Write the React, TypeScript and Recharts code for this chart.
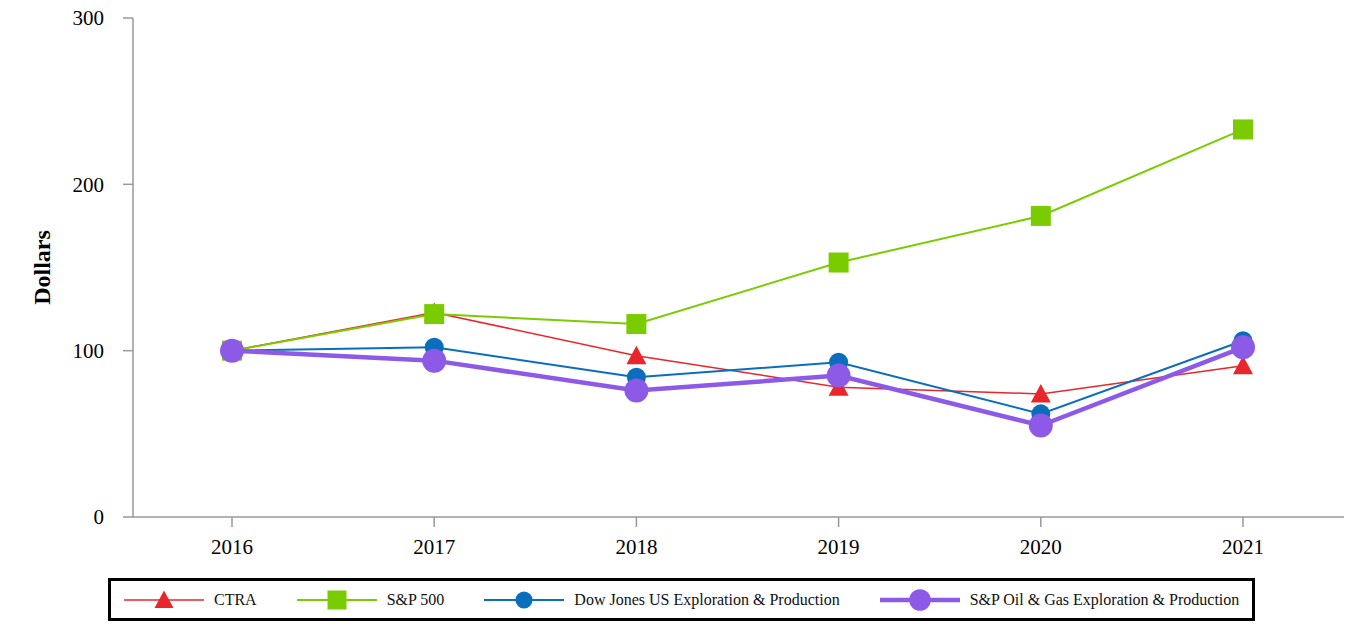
import React from 'react';
import { LineChart, Line, XAxis, YAxis } from 'recharts';

const years = ['2016', '2017', '2018', '2019', '2020', '2021'];
const ctra = [100, 123, 97, 78, 74, 91];
const sp500 = [100, 122, 116, 153, 181, 233];
const dowJonesEP = [100, 102, 84, 93, 62, 106];
const spOilGasEP = [100, 94, 76, 85, 55, 102];
const yTicks = [0, 100, 200, 300];

const FONT = "'Liberation Serif', Tinos, 'Times New Roman', Times, 'DejaVu Serif', serif";

type Marker = 'triangle' | 'square' | 'circle';

interface SeriesDef {
  key: string;
  name: string;
  color: string;
  width: number;
  marker: Marker;
  size: number;
}

const series: SeriesDef[] = [
  { key: 'ctra', name: 'CTRA', color: '#e8262b', width: 1.5, marker: 'triangle', size: 20 },
  { key: 'sp500', name: 'S&P 500', color: '#7acc00', width: 2, marker: 'square', size: 20 },
  { key: 'dj', name: 'Dow Jones US Exploration & Production', color: '#0a6ebd', width: 2, marker: 'circle', size: 19 },
  { key: 'spog', name: 'S&P Oil & Gas Exploration & Production', color: '#8d5ae8', width: 4.5, marker: 'circle', size: 24 },
];

const data = years.map((year, i) => ({
  year,
  ctra: ctra[i],
  sp500: sp500[i],
  dj: dowJonesEP[i],
  spog: spOilGasEP[i],
}));

// draws a marker centred on (cx, cy)
const drawMarker = (m: Marker, cx: number, cy: number, size: number, color: string, key?: string) => {
  const h = size / 2;
  if (m === 'triangle') {
    return (
      <polygon
        key={key}
        points={`${cx},${cy - h} ${cx + h},${cy + h * 0.85} ${cx - h},${cy + h * 0.85}`}
        fill={color}
      />
    );
  }
  if (m === 'square') {
    return <rect key={key} x={cx - h} y={cy - h} width={size} height={size} fill={color} />;
  }
  return <circle key={key} cx={cx} cy={cy} r={h} fill={color} />;
};

const LegendBox = () => (
  <div
    style={{
      position: 'absolute',
      left: 108,
      top: 578,
      width: 1147,
      height: 43,
      boxSizing: 'border-box',
      border: '3px solid #000',
      display: 'flex',
      alignItems: 'center',
      paddingLeft: 13,
      fontFamily: FONT,
      fontSize: 16,
      color: '#111',
      whiteSpace: 'nowrap',
      overflow: 'hidden',
    }}
  >
    {series.map((s) => (
      <div key={s.key} style={{ display: 'flex', alignItems: 'center', marginRight: 40, flexShrink: 0 }}>
        <svg width={80} height={26} style={{ marginRight: 10, flexShrink: 0 }}>
          <line x1={0} y1={13} x2={80} y2={13} stroke={s.color} strokeWidth={s.width} />
          {drawMarker(s.marker, 40, 13, s.marker === 'circle' ? s.size * 0.9 : s.size * 0.95, s.color)}
        </svg>
        <span>{s.name}</span>
      </div>
    ))}
  </div>
);

const DollarsLabel = (props: any) => {
  const vb = props.viewBox || {};
  const cy = vb.y + vb.height / 2;
  return (
    <text
      x={42}
      y={cy}
      transform={`rotate(-90, 42, ${cy})`}
      textAnchor="middle"
      dominantBaseline="central"
      style={{ fontFamily: FONT }}
      fontWeight="bold"
      fontSize={24}
      fill="#000"
    >
      Dollars
    </text>
  );
};

export default function App() {
  return (
    <div style={{ position: 'absolute', left: 0, top: 0, width: 1364, height: 640, background: '#fff', fontFamily: FONT }}>
      <LineChart
        width={1364}
        height={640}
        data={data}
        margin={{ top: 18, right: 20, left: 0, bottom: 0 }}
        style={{ fontFamily: FONT }}
      >
        <XAxis
          dataKey="year"
          height={123}
          padding={{ left: 99, right: 101 }}
          tickSize={10}
          tickMargin={12}
          stroke="#999"
          strokeWidth={1.5}
          tick={{ fill: '#000', fontSize: 21, style: { fontFamily: FONT } }}
        />
        <YAxis
          width={133}
          domain={[0, 300]}
          ticks={yTicks}
          tickSize={10}
          tickMargin={19}
          stroke="#999"
          strokeWidth={1.5}
          tick={{ fill: '#000', fontSize: 21, style: { fontFamily: FONT } }}
          label={<DollarsLabel />}
        />
        {series.map((s) => (
          <Line
            key={s.key}
            dataKey={s.key}
            name={s.name}
            type="linear"
            stroke={s.color}
            strokeWidth={s.width}
            isAnimationActive={false}
            activeDot={false}
            dot={(p: any) => drawMarker(s.marker, p.cx, p.cy, s.size, s.color, `${s.key}-${p.index}`)}
          />
        ))}
      </LineChart>
      <LegendBox />
    </div>
  );
}
